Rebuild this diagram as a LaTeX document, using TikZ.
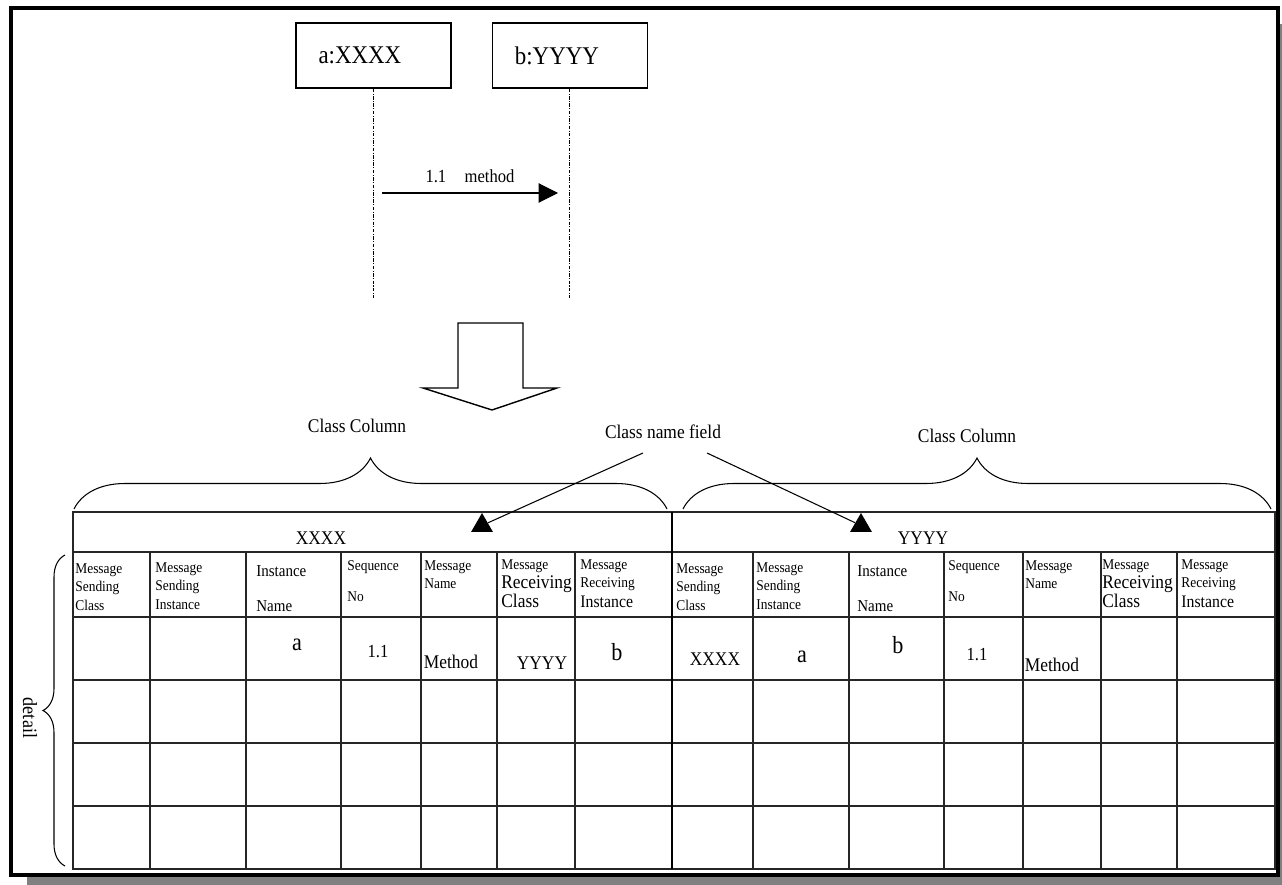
\documentclass[tikz,border=0pt]{standalone}
\usepackage{fontspec}
\setmainfont[FakeStretch=0.9]{Liberation Serif}
\usetikzlibrary{positioning, arrows.meta, calc, decorations.pathreplacing, shapes.geometric}
\newcommand{\valfont}{\fontsize{14}{16}\selectfont}
\newcommand{\recfont}{\fontsize{11}{12}\selectfont}
\tikzset{
  objbox/.style={draw,line width=0.8pt,minimum width=3.1cm,minimum height=1.3cm,inner sep=0pt,text width=2.2cm,align=left,font=\fontsize{14.5}{17}\selectfont},
  lifeline/.style={line width=0.6pt,dash pattern=on 2pt off 0.8pt on 0.6pt off 0.8pt},
  tblline/.style={line width=1pt,black!85},
  colhead/.style={anchor=north west,inner sep=0pt,align=left,font=\fontsize{8.5}{10.5}\selectfont},
  cellval/.style={inner sep=0pt,font=\fontsize{11}{13}\selectfont},
  note/.style={inner sep=0pt,font=\fontsize{11}{13}\selectfont},
  headtri/.style={regular polygon,regular polygon sides=3,fill=black,inner sep=0pt,minimum size=0.5cm},
  brc/.style={decorate,line width=0.6pt}
}

\begin{document}
\begin{tikzpicture}[x=0.02cm,y=-0.02cm,>={Triangle[length=11pt,width=11pt]}]
  \useasboundingbox (0,0) rectangle (1282,885);
  \fill[black!50] (1279.5,24) rectangle (1282,885);
  \fill[black!50] (27,877) rectangle (1282,885);
  \draw[line width=2pt] (11,8) rectangle (1278,875);

  \node[objbox] (a) at (373.5,55.5) {a:XXXX};
  \node[objbox,right=0.8cm of a] (b) {b:YYYY};
  \coordinate (aend) at (373.5,298);
  \coordinate (bend) at (b.south |- aend);
  \draw[lifeline] (a) -- (aend);
  \draw[lifeline] (b) -- (bend);
  \coordinate (m1) at (382,193);
  \coordinate (m2) at (558,193);
  \draw[->,line width=0.6pt] (m1) -- node[above=2pt,font=\fontsize{10.5}{12}\selectfont] (msg) {1.1\quad method} (m2);

  \draw[line width=0.8pt] (458,323) -- (523,323) -- (523,388) -- (557,388) -- (492,410) -- (423,388) -- (458,388) -- cycle;

  \node[note] (ccl) at (357,426) {Class Column};
  \node[note] (ccr) at (967,436) {Class Column};
  \node[note] (cnf) at (663,432) {Class name field};
  \draw[brc,decoration={brace,amplitude=1.02cm}] (74,509) -- (667,509);
  \draw[brc,decoration={brace,amplitude=1.02cm}] (683,509) -- (1271,509);
  \draw[brc,decoration={brace,amplitude=0.44cm}] (65,866) -- (65,555);
  \node[note,rotate=-90,font=\fontsize{11.5}{13}\selectfont] (det) at (30,718) {detail};

  \draw[tblline] (73,512) rectangle (1275,869);
  \foreach \y in {552,617,680,743,806} \draw[tblline] (73,\y) -- (1275,\y);
  \foreach \x in {150,246,341,421,497,575,753,849,944,1023,1101,1177} \draw[tblline] (\x,552) -- (\x,869);
  \draw[line width=1.6pt] (672,512) -- (672,869);

  \node[cellval] (hx) at (321,538) {XXXX};
  \node[cellval] (hy) at (923,538) {YYYY};
  \node[headtri] (tl) at (482,525.5) {};
  \node[headtri] (tr) at (861,525.5) {};
  \coordinate (cnfl) at (643,453);
  \coordinate (cnfr) at (707,453);
  \draw[line width=0.6pt] (cnfl) -- (tl);
  \draw[line width=0.6pt] (cnfr) -- (tr);

  \foreach \side/\dx in {l/0,r/601}{
    \node[colhead] (\side c1) at (75+\dx,563) {Message\\Sending\\Class};
    \node[colhead] (\side c2) at (155+\dx,562) {Message\\Sending\\Instance};
    \node[colhead,font=\fontsize{9.5}{10.5}\selectfont] (\side c3) at (256+\dx,565) {Instance\\[9.5pt]Name};
    \node[colhead] (\side c4) at (347+\dx,560) {Sequence\\[7.5pt]No};
    \node[colhead] (\side c5) at (424+\dx,560) {Message\\Name};
    \node[colhead] (\side c6) at (501+\dx,559) {Message\\[0.5pt]{\recfont Receiving}\\[0.5pt]{\recfont Class}};
    \node[colhead] (\side c7) at (580+\dx,559) {Message\\Receiving\\[1pt]{\fontsize{10}{11}\selectfont Instance}};
  }

  \node[cellval,font=\valfont] (la) at (297,645) {a};
  \node[cellval,font=\fontsize{10.5}{12}\selectfont] (lseq) at (378,652) {1.1};
  \node[cellval] (lmeth) at (451,662) {Method};
  \node[cellval] (lrc) at (542,663) {YYYY};
  \node[cellval,font=\valfont] (lb) at (617,652) {b};
  \node[cellval] (rsc) at (715,659) {XXXX};
  \node[cellval,font=\valfont] (ra) at (802,657) {a};
  \node[cellval,font=\valfont] (rb) at (898,645) {b};
  \node[cellval,font=\fontsize{10.5}{12}\selectfont] (rseq) at (977,655) {1.1};
  \node[cellval] (rmeth) at (1052,665) {Method};
\end{tikzpicture}
\end{document}
